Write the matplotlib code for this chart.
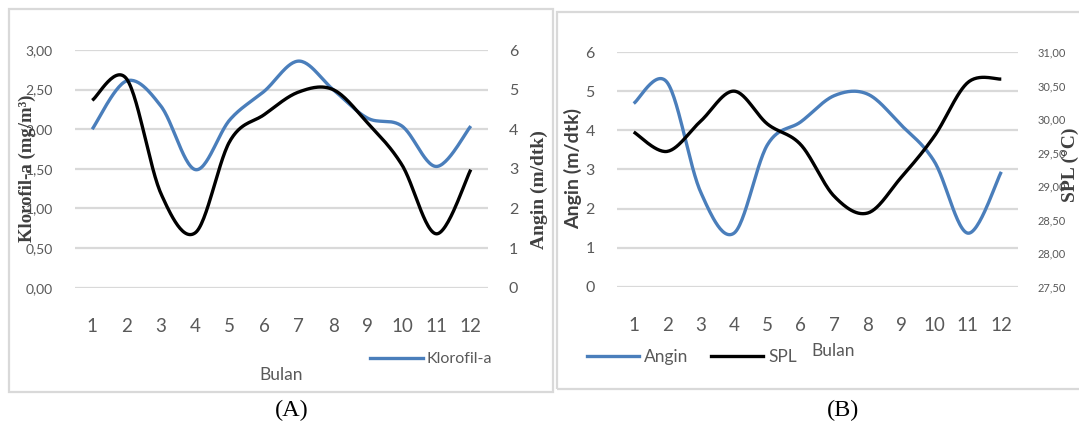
import numpy as np
import matplotlib
matplotlib.use("Agg")
import matplotlib.pyplot as plt
from matplotlib.patches import Rectangle
from matplotlib.lines import Line2D

# data
bulan = list(range(1, 13))
klorofil = [2.00, 2.61, 2.29, 1.49, 2.12, 2.48, 2.86, 2.50, 2.14, 2.04, 1.53, 2.04]
angin_a = [4.73, 5.27, 2.37, 1.39, 3.70, 4.37, 4.94, 5.00, 4.16, 3.10, 1.36, 2.98]
angin_b = [4.69, 5.23, 2.43, 1.37, 3.63, 4.22, 4.89, 4.93, 4.14, 3.20, 1.37, 2.94]
spl = [29.81, 29.52, 29.97, 30.42, 29.93, 29.62, 28.85, 28.60, 29.13, 29.75, 30.55, 30.60]

klorofil_ticks = [0.0, 0.5, 1.0, 1.5, 2.0, 2.5, 3.0]
angin_ticks = [0, 1, 2, 3, 4, 5, 6]
spl_ticks = [27.5, 28.0, 28.5, 29.0, 29.5, 30.0, 30.5, 31.0]

BLUE = "#4a7ebb"
GRAY = "#595959"
GRID = "#d9d9d9"
SANS = ["Lato", "DejaVu Sans"]
SERIF = ["Liberation Serif", "DejaVu Serif"]

W, H = 1079, 423


def smooth(x, y, n=30):
    # Excel-like smoothed line (Catmull-Rom through the points)
    p = np.column_stack([x, y]).astype(float)
    p = np.vstack([p[0], p, p[-1]])
    out = []
    t = np.linspace(0, 1, n)[:, None]
    for i in range(1, len(p) - 2):
        p0, p1, p2, p3 = p[i - 1], p[i], p[i + 1], p[i + 2]
        c1 = p1 + (p2 - p0) / 6
        c2 = p2 - (p3 - p1) / 6
        seg = ((1 - t) ** 3) * p1 + 3 * ((1 - t) ** 2) * t * c1 + 3 * (1 - t) * t ** 2 * c2 + t ** 3 * p2
        out.append(seg if i == 1 else seg[1:])
    out = np.vstack(out)
    return out[:, 0], out[:, 1]


def px_axes(fig, l, t, r, b):
    return fig.add_axes([l / W, 1 - b / H, (r - l) / W, (b - t) / H])


def fmt(v):
    return f"{v:.2f}".replace(".", ",")


def style(ax):
    for s in ax.spines.values():
        s.set_visible(False)
    ax.tick_params(length=0)


fig = plt.figure(figsize=(W / 100, H / 100), dpi=100)

# frames around the two charts
fig.add_artist(Rectangle((9 / W, 1 - 392 / H), (553 - 9) / W, (392 - 9) / H,
                         transform=fig.transFigure, fill=False, ec=GRID, lw=1.6))
fig.add_artist(Rectangle((557 / W, 1 - 389 / H), (1085 - 557) / W, (389 - 12) / H,
                         transform=fig.transFigure, fill=False, ec=GRID, lw=1.6))

# ---------- (A) ----------
ax = px_axes(fig, 75, 50, 488, 287.7)
style(ax)
ax.set_xlim(0.5, 12.5)
ax.set_ylim(0, 3)
ax.set_yticks(klorofil_ticks)
ax.set_yticklabels([fmt(v) for v in klorofil_ticks], fontsize=10, color=GRAY, family=SANS)
ax.tick_params(axis="y", pad=16)
ax.set_xticks(bulan)
ax.set_xticklabels(bulan, fontsize=13.5, color=GRAY, family=SANS)
ax.tick_params(axis="x", pad=22)
ax.grid(axis="y", color=GRID, lw=1.6)
ax.set_axisbelow(True)
sx, sy = smooth(bulan, klorofil)
ax.plot(sx, sy, color=BLUE, lw=2.4, solid_capstyle="butt", label="Klorofil-a")

ax2 = ax.twinx()
style(ax2)
ax2.set_ylim(0, 6)
ax2.set_yticks(angin_ticks)
ax2.set_yticklabels(angin_ticks, fontsize=11.5, color=GRAY, family=SANS)
ax2.tick_params(axis="y", pad=15)
sx, sy = smooth(bulan, angin_a)
ax2.plot(sx, sy, color="black", lw=2.4, solid_capstyle="butt")

fig.text(27 / W, 1 - 168 / H, "Klorofil-a (mg/m³)", rotation=90, ha="center", va="center",
         fontsize=13.5, fontweight="bold", color="#404040", family=SERIF)
fig.text(539 / W, 1 - 190 / H, "Angin (m/dtk)", rotation=90, ha="center", va="center",
         fontsize=14, fontweight="bold", color="#404040", family=SERIF)
fig.text(281 / W, 1 - 375 / H, "Bulan", ha="center", va="center", fontsize=12.5, color=GRAY, family=SANS)
fig.text(292 / W, 1 - 410 / H, "(A)", ha="center", va="center", fontsize=17.5, color="black", family=SERIF)
fig.legend(handles=[Line2D([], [], color=BLUE, lw=2.4)], labels=["Klorofil-a"],
           loc="center left", bbox_to_anchor=(370 / W, 1 - 359 / H), frameon=False,
           borderpad=0, borderaxespad=0, handlelength=3.3, handletextpad=0.25,
           prop={"family": SANS, "size": 11.5}, labelcolor=GRAY)

# ---------- (B) ----------
bx = px_axes(fig, 617, 52.3, 1018, 286.7)
style(bx)
bx.set_xlim(0.5, 12.5)
bx.set_ylim(0, 6)
bx.set_yticks(angin_ticks)
bx.set_yticklabels(angin_ticks, fontsize=11.5, color=GRAY, family=SANS)
bx.tick_params(axis="y", pad=16)
bx.set_xticks(bulan)
bx.set_xticklabels(bulan, fontsize=13.5, color=GRAY, family=SANS)
bx.tick_params(axis="x", pad=22)
bx.grid(axis="y", color=GRID, lw=1.6)
bx.set_axisbelow(True)
sx, sy = smooth(bulan, angin_b)
bx.plot(sx, sy, color=BLUE, lw=2.4, solid_capstyle="butt")

bx2 = bx.twinx()
style(bx2)
bx2.set_ylim(27.5, 31.0)
bx2.set_yticks(spl_ticks)
bx2.set_yticklabels([fmt(v) for v in spl_ticks], fontsize=8, color=GRAY, family=SANS)
bx2.tick_params(axis="y", pad=14)
sx, sy = smooth(bulan, spl)
bx2.plot(sx, sy, color="black", lw=2.4, solid_capstyle="butt")

fig.text(573 / W, 1 - 168 / H, "Angin (m/dtk)", rotation=90, ha="center", va="center",
         fontsize=14, fontweight="bold", color="#404040", family=SANS)
fig.text(1070 / W, 1 - 165 / H, "SPL (°C)", rotation=90, ha="center", va="center",
         fontsize=14, fontweight="bold", color="#404040", family=SERIF)
fig.text(833 / W, 1 - 351 / H, "Bulan", ha="center", va="center", fontsize=12.5, color=GRAY, family=SANS)
fig.text(843 / W, 1 - 410 / H, "(B)", ha="center", va="center", fontsize=17.5, color="black", family=SERIF)
fig.legend(handles=[Line2D([], [], color=BLUE, lw=2.4), Line2D([], [], color="black", lw=2.4)],
           labels=["Angin", "SPL"], ncol=2,
           loc="center left", bbox_to_anchor=(587 / W, 1 - 357 / H), frameon=False,
           borderpad=0, borderaxespad=0, handlelength=3.0, handletextpad=0.3, columnspacing=1.3,
           prop={"family": SANS, "size": 12.5}, labelcolor=GRAY)

fig.savefig("out.png", dpi=100)
